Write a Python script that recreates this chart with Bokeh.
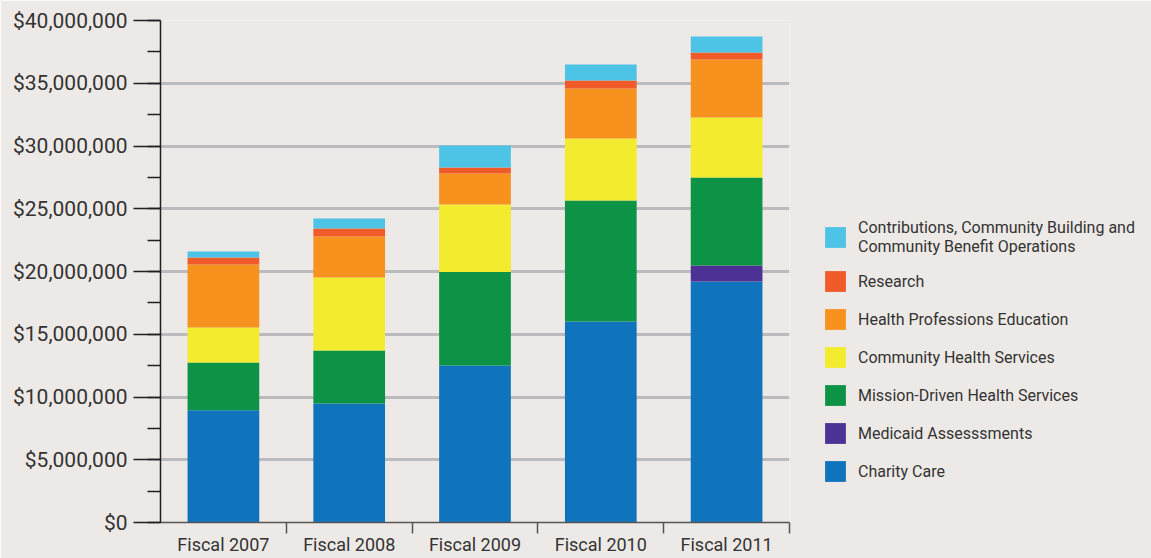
import re
from bokeh.plotting import figure
from bokeh.models import (ColumnDataSource, Legend, LegendItem, SingleIntervalTicker,
                          FixedTicker, NumeralTickFormatter, Range1d)
from bokeh.embed import file_html
from bokeh.resources import INLINE

# ---- data (US$) ----
categories = ["Fiscal 2007", "Fiscal 2008", "Fiscal 2009", "Fiscal 2010", "Fiscal 2011"]
charity_care = [8.95e6, 9.48e6, 12.51e6, 16.02e6, 19.20e6]
medicaid_assessments = [0.0, 0.0, 0.0, 0.0, 1.28e6]
mission_driven = [3.80e6, 4.22e6, 7.46e6, 9.64e6, 7.01e6]
community_health = [2.79e6, 5.82e6, 5.37e6, 4.94e6, 4.78e6]
health_prof_edu = [5.02e6, 3.27e6, 2.47e6, 3.98e6, 4.62e6]
research = [0.56e6, 0.64e6, 0.48e6, 0.64e6, 0.56e6]
contributions = [0.47e6, 0.79e6, 1.75e6, 1.27e6, 1.28e6]

series_names = ["Charity Care", "Medicaid Assesssments", "Mission-Driven Health Services",
                "Community Health Services", "Health Professions Education", "Research",
                "Contributions, Community Building and\nCommunity Benefit Operations"]
series_keys = ["charity", "medicaid", "mission", "community", "hpe", "research", "contrib"]
colors = ["#1074BC", "#4B3294", "#0D9345", "#F3EC2E", "#F7921E", "#F15A29", "#4DC3E6"]

bg = "#EDE9E6"
txt = "#333333"
font = "Roboto"

n = len(categories)
xs = [i + 0.5 for i in range(n)]
source = ColumnDataSource(dict(x=xs, charity=charity_care, medicaid=medicaid_assessments,
                               mission=mission_driven, community=community_health,
                               hpe=health_prof_edu, research=research, contrib=contributions))

p = figure(frame_width=629, frame_height=502, x_range=Range1d(0, n), y_range=Range1d(0, 40e6),
           output_backend="svg", toolbar_location=None,
           min_border_left=160, min_border_right=362, min_border_top=20, min_border_bottom=36,
           background_fill_color=bg, border_fill_color=bg, outline_line_color=None)

renderers = p.vbar_stack(series_keys, x="x", width=0.57, color=colors, line_color=None,
                         source=source)

# y axis
yt = SingleIntervalTicker(interval=5e6, num_minor_ticks=2)
p.yaxis.ticker = yt
p.yaxis.formatter = NumeralTickFormatter(format="$0,0")
p.yaxis.major_tick_out = 27
p.yaxis.major_tick_in = 0
p.yaxis.minor_tick_out = 13
p.yaxis.minor_tick_in = 0
p.yaxis.major_label_standoff = 6
p.yaxis.axis_line_color = "#231F20"
p.yaxis.axis_line_width = 1.5
p.yaxis.major_tick_line_color = "#231F20"
p.yaxis.major_tick_line_width = 1.5
p.yaxis.minor_tick_line_color = "#231F20"
p.yaxis.minor_tick_line_width = 1.5
p.yaxis.major_label_text_font = font
p.yaxis.major_label_text_font_size = "21px"
p.yaxis.major_label_text_color = txt

# x axis: labels at centres, tick marks at boundaries
p.xaxis.ticker = FixedTicker(ticks=xs, minor_ticks=[i + 1 for i in range(n)])
p.xaxis.major_label_overrides = {x: c for x, c in zip(xs, categories)}
p.xaxis.major_tick_out = 0
p.xaxis.major_tick_in = 0
p.xaxis.minor_tick_out = 11
p.xaxis.minor_tick_in = 0
p.xaxis.major_label_standoff = 0
p.xaxis.axis_line_color = "#555555"
p.xaxis.axis_line_width = 1.5
p.xaxis.minor_tick_line_color = "#555555"
p.xaxis.minor_tick_line_width = 1.5
p.xaxis.major_label_text_font = font
p.xaxis.major_label_text_font_size = "18px"
p.xaxis.major_label_text_color = txt

p.xgrid.visible = False
p.ygrid.grid_line_color = "#BBBBBD"
p.ygrid.grid_line_width = 3

items = [LegendItem(label=name, renderers=[r]) for name, r in zip(series_names, renderers)]
items.reverse()
legend = Legend(items=items, location=(33, 38), border_line_color=None,
                background_fill_alpha=0, padding=0, margin=0, spacing=12,
                glyph_width=26, glyph_height=26, label_standoff=10,
                label_text_font=font, label_text_font_size="16px",
                label_text_color=txt, label_text_line_height=1.45)
p.add_layout(legend, "right")

html = file_html(p, INLINE)
html = re.sub(r"<body([^>]*)>", r'<body\1 style="background-color:%s; overflow:hidden;">' % bg,
              html, count=1)
open("out.html", "w").write(html)
